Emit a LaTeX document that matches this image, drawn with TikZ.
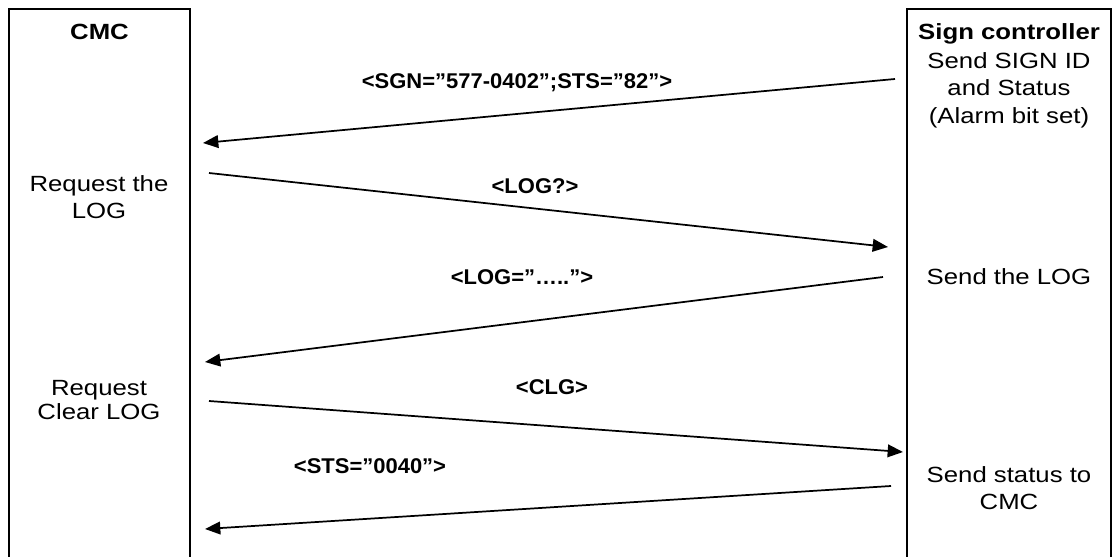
\documentclass[tikz,border=0pt]{standalone}
\usepackage{fontspec}
\setmainfont{Liberation Sans}[FakeStretch=1.17]
\newfontfamily\lblfont{Liberation Sans}[FakeStretch=1.03]
\usetikzlibrary{arrows.meta}
\begin{document}
\begin{tikzpicture}[x=0.75pt,y=-0.75pt,
  box/.style={draw, line width=1pt},
  msg/.style={line width=1.3pt, -{Triangle[length=11.5pt,width=9.5pt]}},
  lbl/.style={font=\lblfont\bfseries\fontsize{16pt}{19pt}\selectfont, inner sep=0pt, anchor=base},
  txt/.style={font=\fontsize{16.5pt}{20.5pt}\selectfont, align=center, inner sep=0pt},
  hdr/.style={font=\bfseries\fontsize{16.5pt}{19pt}\selectfont, inner sep=0pt, anchor=base}]
\useasboundingbox (0,0) rectangle (1119,556);
\clip (0,0) rectangle (1119,556);
% lifeline boxes
\draw[box] (9,600) -- (9,9) -- (190,9) -- (190,600);
\draw[box] (907,600) -- (907,9) -- (1111,9) -- (1111,600);
% headers
\node[hdr] (cmc) at (99.5,40) {CMC};
\node[hdr] (sc) at (1009,40) {Sign controller};
% side texts
\node[txt] (s1) at (1009,90) {Send SIGN ID\\and Status\\(Alarm bit set)};
\node[txt] (c1) at (99,197) {Request the\\LOG};
\node[txt, anchor=base] (s2) at (1009,284) {Send the LOG};
\node[txt, font=\fontsize{16.5pt}{17.5pt}\selectfont] (c2) at (99,400) {Request\\Clear LOG};
\node[txt] (s3) at (1009,488) {Send status to\\CMC};
% arrow ends
\coordinate (a1s) at (895,79);  \coordinate (a1e) at (203,143);
\coordinate (a2s) at (209,173); \coordinate (a2e) at (888,247);
\coordinate (a3s) at (883,277); \coordinate (a3e) at (205,362);
\coordinate (a4s) at (209,401); \coordinate (a4e) at (903,452);
\coordinate (a5s) at (891,486); \coordinate (a5e) at (205,529);
\draw[msg] (a1s) -- (a1e);
\draw[msg] (a2s) -- (a2e);
\draw[msg] (a3s) -- (a3e);
\draw[msg] (a4s) -- (a4e);
\draw[msg] (a5s) -- (a5e);
% labels
\node[lbl] (l1) at (517,89) {<SGN=”577-0402”;STS=”82”>};
\node[lbl] (l2) at (535,193) {<LOG?>};
\node[lbl] (l3) at (522,284) {<LOG=”…..”>};
\node[lbl] (l4) at (552,394) {<CLG>};
\node[lbl] (l5) at (370,473) {<STS=”0040”>};
\end{tikzpicture}
\end{document}
